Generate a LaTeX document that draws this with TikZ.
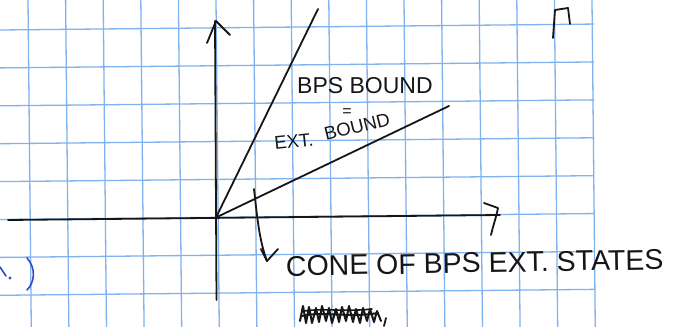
\documentclass[tikz,border=0pt]{standalone}
\usepackage{fontspec}
\setmainfont{Liberation Sans}
\definecolor{inkc}{RGB}{22,22,22}
\definecolor{gridc}{RGB}{128,178,240}
\definecolor{bluec}{RGB}{45,75,205}
\begin{document}
\begin{tikzpicture}[x=1pt,y=-1pt,
  ink/.style={line width=1.8pt, line cap=round, line join=round, draw=inkc},
  blueink/.style={line width=1.6pt, line cap=round, line join=round, draw=bluec},
  gridline/.style={line width=1.3pt, draw=gridc},
  handbig/.style={font=\fontsize{23}{23}\selectfont, text=inkc, inner sep=0pt},
  handmid/.style={font=\fontsize{18.5}{18.5}\selectfont, text=inkc, inner sep=0pt},
  handlab/.style={font=\fontsize{28.5}{28.5}\selectfont, text=inkc, inner sep=0pt}]
\useasboundingbox (0,0) rectangle (681,327);
\fill[white] (0,0) rectangle (681,327);
% grid paper
\foreach \k in {0,...,7}
  \draw[gridline] (0,{30+37.9*\k}) -- (594,{30+37.9*\k-5.94});
\foreach \j in {0,...,15}
  \draw[gridline] ({28+37.6*\j},0) -- ({28+37.6*\j+3.27},327);
% coordinates
\coordinate (O) at (216,217.5);
\coordinate (ytop) at (215,21);
\coordinate (ybot) at (216.5,300);
\coordinate (xleft) at (8,220);
\coordinate (xright) at (500,215);
\coordinate (steep) at (318,9);
\coordinate (shallow) at (449,106);
% axes
\draw[ink] (ybot) -- (ytop);
\draw[ink] (207,43) -- (216,21) -- (230,35);
\draw[ink] (xleft) -- (xright);
\draw[ink] (484,203) -- (498,208) .. controls (496,218) and (493,226) .. (491,235);
% bounds
\draw[ink] (O) -- (steep);
\draw[ink] (O) -- (shallow);
% curved arrow
\coordinate (cstart) at (254,189);
\coordinate (ctip) at (267,261);
\draw[ink] (cstart) .. controls (257,215) and (259,240) .. (ctip);
\draw[ink] (261,249) -- (ctip) -- (278,249);
% labels
\node[handbig, anchor=base west] (bps) at (297,93) {BPS BOUND};
\node[font=\fontsize{16}{16}\selectfont, text=inkc, inner sep=0pt] (eq) at (347,113) {=};
\node[handmid, anchor=base west, rotate=6] (ext) at (275,150) {EXT.};
\node[handmid, anchor=base west, rotate=14] (extb) at (326,141) {BOUND};
\node[handlab, anchor=base west, rotate=1] (cone) at (286,276) {CONE OF BPS EXT. STATES};
% scribbled-out word
\draw[ink, line width=2pt] (300,321) -- (303,306) -- (306,323) -- (309,307) -- (312,323) -- (316,308) -- (319,322) -- (322,306) -- (326,321) -- (329,308) -- (332,323) -- (336,309) -- (339,322) -- (342,307) -- (346,321) -- (349,306) -- (353,322) -- (356,309) -- (360,323) -- (363,308) -- (367,321) -- (370,309) -- (374,322) -- (377,311) -- (381,321);
\draw[ink, line width=2pt] (302,316) .. controls (320,311) and (350,318) .. (378,313);
\draw[ink, line width=1.6pt] (304,311) .. controls (325,308) and (345,312) .. (372,309);
\draw[ink, line width=1.8pt] (386,318) -- (384,326);
% page mark
\draw[ink] (553,38) -- (555,10) -- (568,8) -- (570,24);
% blue margin fragment
\draw[blueink] (0,267) -- (6,276);
\fill[bluec] (10,278) circle (1.6);
\draw[blueink] (27,258) .. controls (36,268) and (35,282) .. (27,290);
\end{tikzpicture}
\end{document}
